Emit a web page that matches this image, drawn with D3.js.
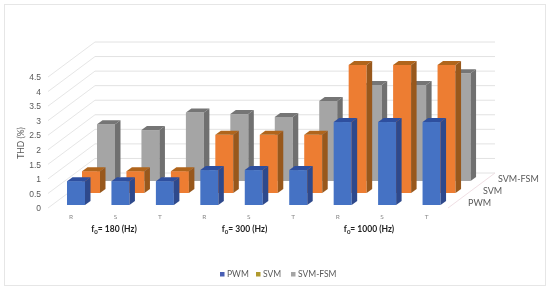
<!DOCTYPE html>
<html>
<head>
<meta charset="utf-8">
<script src="https://cdn.jsdelivr.net/npm/d3@7"></script>
<style>
    html, body { margin: 0; padding: 0; background: #fff; }
    svg { display: block; font-family: Lato, "Open Sans", sans-serif; }
</style>
</head>
<body>
<div id="chart"></div>
<script>
// Values
var seriesNames = ['PWM', 'SVM', 'SVM-FSM'];
var phases = ['R', 'S', 'T', 'R', 'S', 'T', 'R', 'S', 'T'];
var groupNames = ['180', '300', '1000'];
var pwm = [0.82, 0.82, 0.82, 1.2, 1.2, 1.2, 2.85, 2.85, 2.85];
var svm = [0.75, 0.75, 0.75, 2.0, 2.0, 2.0, 4.4, 4.4, 4.4];
var svmFsm = [1.95, 1.75, 2.35, 2.3, 2.2, 2.75, 3.3, 3.3, 3.7];
var yTicks = [0, 0.5, 1, 1.5, 2, 2.5, 3, 3.5, 4, 4.5];

var width = 550, height = 291;

// Wall skew, and the bar depth
var wallDx = 47, wallDy = 35;
var barDx = 5.5, barDy = 4, barWidth = 18;

var colors = {
    'PWM': {front: '#4472c4', top: '#2f4f9f', side: '#2f4a8c', key: '#4a5fb4'},
    'SVM': {front: '#ed7d31', top: '#b0651d', side: '#98591f', key: '#b09a2e'},
    'SVM-FSM': {front: '#a5a5a5', top: '#757575', side: '#707070', key: '#a5a5a5'}
};

var xScale = d3.scaleBand().domain(d3.range(phases.length)).range([48, 448]);
var yScale = d3.scaleLinear().domain([0, 4.5]).range([208, 77]);
// Each series sits on its own row of the floor
var rowX = d3.scalePoint().domain(seriesNames).range([19, 49]);
var rowY = d3.scalePoint().domain(seriesNames).range([3, 27]);
var valuesBySeries = {'PWM': pwm, 'SVM': svm, 'SVM-FSM': svmFsm};

var svg = d3.select('#chart').append('svg')
    .attr('width', width)
    .attr('height', height);

// The reference is a soft, resampled image
var blur = svg.append('defs').append('filter')
    .attr('id', 'soft')
    .attr('x', 0).attr('y', 0).attr('width', 1).attr('height', 1);
blur.append('feGaussianBlur').attr('stdDeviation', 0.4);

var root = svg.append('g').attr('filter', 'url(#soft)');

root.append('rect')
    .attr('width', width).attr('height', height)
    .attr('fill', '#fff');

// Outer frame
root.append('rect')
    .attr('x', 4.5).attr('y', 4.5)
    .attr('width', 541).attr('height', 281)
    .attr('fill', '#fff')
    .attr('stroke', '#e6e6e6');

// Grid on back wall and left wall
var grid = root.append('g').attr('class', 'grid');
grid.selectAll('.back').data(yTicks).enter().append('line')
    .attr('class', 'back')
    .attr('x1', 48 + wallDx).attr('x2', 448 + wallDx)
    .attr('y1', function(d) { return yScale(d) - wallDy; })
    .attr('y2', function(d) { return yScale(d) - wallDy; })
    .attr('stroke', '#e2e2e2');
grid.selectAll('.left').data(yTicks).enter().append('line')
    .attr('class', 'left')
    .attr('x1', 48).attr('x2', 48 + wallDx)
    .attr('y1', function(d) { return yScale(d); })
    .attr('y2', function(d) { return yScale(d) - wallDy; })
    .attr('stroke', '#e6e6e6');
grid.append('line')
    .attr('x1', 448).attr('y1', yScale(0))
    .attr('x2', 448 + wallDx).attr('y2', yScale(0) - wallDy)
    .attr('stroke', '#f0dfe4');

// Bars, back row first so the front rows cover it
var rows = seriesNames.slice().reverse();
rows.forEach(function(name) {
    var c = colors[name];
    var g = root.append('g').attr('class', 'bars');
    valuesBySeries[name].forEach(function(v, i) {
        var x0 = xScale(i) + rowX(name);
        var x1 = x0 + barWidth;
        var yBase = yScale(0) - rowY(name);
        var yTop = yBase - (yScale(0) - yScale(v));

        g.append('rect')
            .attr('x', x0).attr('y', yTop)
            .attr('width', barWidth).attr('height', yBase - yTop)
            .attr('fill', c.front);
        g.append('polygon')
            .attr('points', [[x0, yTop], [x1, yTop], [x1 + barDx, yTop - barDy], [x0 + barDx, yTop - barDy]].join(' '))
            .attr('fill', c.top);
        g.append('polygon')
            .attr('points', [[x1, yTop], [x1 + barDx, yTop - barDy], [x1 + barDx, yBase - barDy], [x1, yBase]].join(' '))
            .attr('fill', c.side);
    });
});

// Y axis
var yAxis = d3.axisLeft(yScale).tickValues(yTicks).tickSize(0).tickPadding(0).tickFormat(d3.format(''));
var yG = root.append('g')
    .attr('class', 'y-axis')
    .attr('transform', 'translate(41,0)')
    .call(yAxis);
yG.select('.domain').remove();
yG.selectAll('text')
    .attr('fill', '#595959')
    .attr('font-size', 8.5);

root.append('text')
    .attr('transform', 'translate(24,143) rotate(-90)')
    .attr('text-anchor', 'middle')
    .attr('font-size', 8.5)
    .attr('fill', '#595959')
    .text('THD (%)');

// Phase labels
root.selectAll('.phase').data(phases).enter().append('text')
    .attr('class', 'phase')
    .attr('x', function(d, i) { return xScale(i) + 23; })
    .attr('y', 219)
    .attr('text-anchor', 'middle')
    .attr('font-size', 6.5)
    .attr('fill', '#8a8a8a')
    .text(function(d) { return d; });

// Frequency labels
var groupX = [114, 244.5, 369];
var groupText = root.selectAll('.group').data(groupNames).enter().append('text')
    .attr('class', 'group')
    .attr('x', function(d, i) { return groupX[i]; })
    .attr('y', 232)
    .attr('text-anchor', 'middle')
    .attr('font-size', 8.5)
    .attr('font-weight', 'bold')
    .attr('fill', '#222');
groupText.append('tspan').text('f');
groupText.append('tspan').attr('font-size', 6).attr('dy', 2).text('0');
groupText.append('tspan').attr('dy', -2).text(function(d) { return '= ' + d + ' (Hz)'; });

// Depth axis labels
seriesNames.forEach(function(name) {
    root.append('text')
        .attr('x', 449 + rowX(name))
        .attr('y', yScale(0) - rowY(name) + 1)
        .attr('font-size', 9)
        .attr('fill', '#595959')
        .text(name);
});

// Legend
var legendSwatchX = [220, 256, 291];
var legend = root.selectAll('.legend').data(seriesNames).enter().append('g')
    .attr('class', 'legend')
    .attr('transform', function(d, i) { return 'translate(' + legendSwatchX[i] + ',274)'; });
legend.append('rect')
    .attr('y', -2).attr('width', 4.5).attr('height', 4.5)
    .attr('fill', function(d) { return colors[d].key; });
legend.append('text')
    .attr('x', 7)
    .attr('y', 3)
    .attr('font-size', 8.5)
    .attr('fill', '#595959')
    .text(function(d) { return d; });
</script>
</body>
</html>
